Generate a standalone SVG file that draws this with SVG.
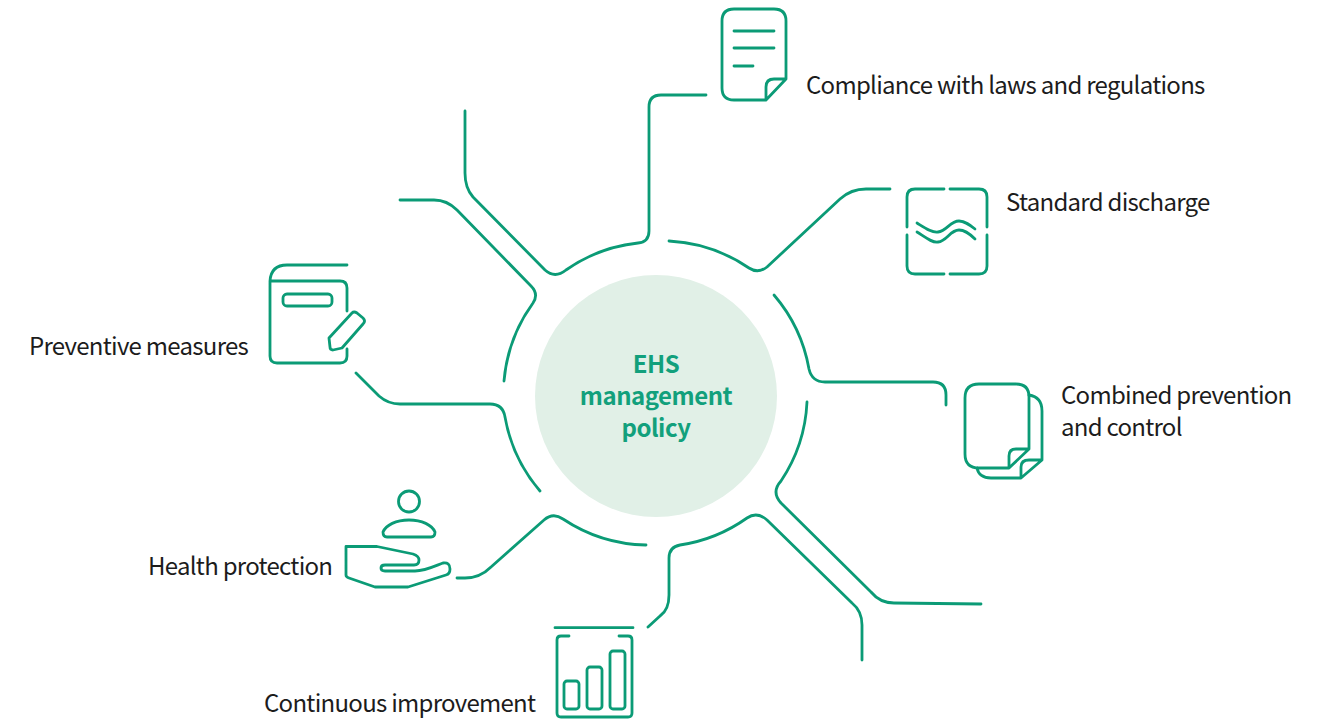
<svg xmlns="http://www.w3.org/2000/svg" width="1319" height="723" viewBox="0 0 1319 723">
<style>
.l{fill:none;stroke:#0B9B76;stroke-width:2.8;stroke-linecap:round;stroke-linejoin:round}
.t{font-family:"Noto Sans CJK SC","Noto Sans",sans-serif;font-size:24px;letter-spacing:-0.72px;fill:#1c1c1c}
.c{font-family:"Noto Sans CJK SC","Noto Sans",sans-serif;font-size:24px;font-weight:700;letter-spacing:-0.5px;fill:#12A07C;text-anchor:middle}
</style>
<rect width="1319" height="723" fill="#fff"/>
<g id="connectors" class="l">
<path d="M706 95H661Q649 95 649 107V231Q649 242 638 243A155 155 0 0 0 566 270Q555 279 545 270L473 197Q465 188 465 173V111"/>
<path d="M669 241A155 155 0 0 1 749 268Q758 274 767 267L840 199Q851 189 866 189H890"/>
<path d="M774 295A155 155 0 0 1 809 369Q812 382 825 382H933Q946 382 946 395V405"/>
<path d="M807 402A155 155 0 0 1 781 481Q771 492 781 503L871 592Q880 603 894 603L981 604"/>
<path d="M862 660V625Q862 611 852 603L767 520Q757 511 747 518A155 155 0 0 1 680 545Q669 547 669 558V595Q669 610 660 616L648 627"/>
<path d="M646 545A155 155 0 0 1 563 519Q553 512 544 520L491 567Q480 578 465 578H457"/>
<path d="M540 491A155 155 0 0 1 505 417Q503 404 490 404H400Q388 404 379 396L356 373"/>
<path d="M504 381A155 155 0 0 1 533 303Q539 294 531 286L457 210Q447 200 434 200H400"/>
</g>
<g id="center"><circle cx="656" cy="396" r="121" fill="#E1F0E7"/>
<text class="c" x="656" y="373">EHS</text><text class="c" x="656" y="405">management</text><text class="c" x="656" y="437">policy</text></g>
<g id="compliance">
<path class="l" d="M766 100H734Q722 100 722 88V21Q722 9 734 9H774Q786 9 786 21V79L766 100V87Q766 79 774 79H786"/>
<path class="l" d="M734 31H774M734 48H774M734 66H753"/>
<text class="t" x="806" y="94">Compliance with laws and regulations</text></g>
<g id="discharge">
<path class="l" d="M944 189H915Q907 189 907 197V227M907 235V266Q907 274 915 274H944M950 274H979Q987 274 987 266V235M987 227V197Q987 189 979 189H950"/>
<path class="l" d="M917 223C925 228 932 233 938 232C947 231 950 221 959 221C965 221 970 225 975 229"/>
<path class="l" d="M917 232C925 237 932 243 938 242C947 241 950 230 959 230C965 230 970 234 975 239"/>
<text class="t" x="1006" y="211">Standard discharge</text></g>
<g id="combined">
<path class="l" d="M1009 468H979Q965 468 965 454V398Q965 384 979 384H1016Q1029 384 1029 397V449L1009 468V456Q1009 449 1016 449H1029"/>
<path class="l" d="M1029 395Q1042 397 1042 411V460L1021 478V467Q1021 460 1029 460H1042M977 468Q979 478 991 478H1021"/>
<text class="t" x="1061" y="404">Combined prevention</text><text class="t" x="1061" y="436">and control</text></g>
<g id="preventive">
<path class="l" d="M347 265H287Q271 265 270 281H340Q347 281 347 288V311M347 349V356Q347 363 340 363H277Q270 363 270 356V281"/>
<rect class="l" x="283" y="294" width="49" height="12" rx="4"/>
<path class="l" d="M352 313Q354 311 357 313L363 318Q366 321 363 324L342 348L333 350Q330 350 330 347L329 338Z"/>
<text class="t" x="29" y="355">Preventive measures</text></g>
<g id="health">
<circle class="l" cx="409" cy="501.5" r="10.5"/>
<path class="l" d="M387 537H431Q435 537 435 532C432 525 422 520 409 520C396 520 386 525 383 532Q383 537 387 537Z"/>
<path class="l" d="M346 546.500H377L413 554Q419 556 419 560Q419 565 414 565H385Q381 565 381 568Q381 571 385 571H415C425 571 435 566 443 563Q450 562 450 569Q450 574 446 575L408 587H375L349 578Q346 577 346 575Z"/>
<text class="t" x="148" y="575">Health protection</text></g>
<g id="improvement">
<path class="l" d="M555 627.700H633M569 636H561Q557 636 557 640V713Q557 717 561 717H628Q632 717 632 713V640Q632 636 628 636H619"/>
<rect class="l" x="564" y="681" width="15" height="28" rx="3"/>
<rect class="l" x="587" y="667" width="15" height="42" rx="3"/>
<rect class="l" x="610" y="651" width="15" height="58" rx="3"/>
<text class="t" x="264" y="712">Continuous improvement</text></g>
</svg>
